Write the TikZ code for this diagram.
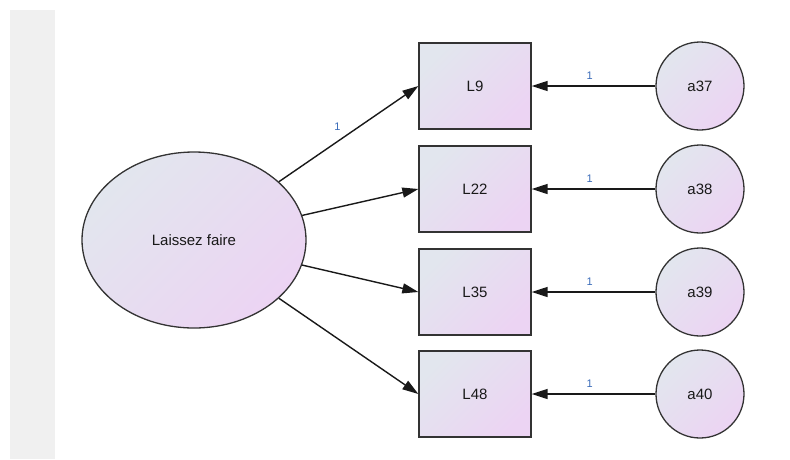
\documentclass[tikz,border=0pt]{standalone}
\usepackage{fontspec}
\setmainfont{Liberation Sans}
\usetikzlibrary{arrows.meta,shapes.geometric}
\definecolor{panel}{HTML}{F0F0F0}
\definecolor{shA}{HTML}{E2E6EE}
\definecolor{shB}{HTML}{ECD4F3}
\definecolor{edge}{HTML}{333333}
\definecolor{lbl}{HTML}{3A6BB8}
\begin{document}
\begin{tikzpicture}[x=1pt,y=-1pt,
  gfill/.style={draw=edge,line width=1.3pt,top color=shA,bottom color=shB,shading angle=45},
  txt/.style={font=\fontsize{15}{17}\selectfont,text=black!90},
  obs/.style={gfill,txt,rectangle,minimum width=112pt,minimum height=86pt,inner sep=0pt},
  err/.style={gfill,txt,circle,minimum size=88pt,inner sep=0pt},
  lat/.style={gfill,txt,ellipse,minimum width=224pt,minimum height=176pt,inner sep=0pt},
  arr/.style={line width=1.4pt,draw=black!90,-{Triangle[length=16pt,width=10pt]}},
  wlab/.style={font=\fontsize{11}{12}\selectfont,text=lbl}]
\useasboundingbox (0,0) rectangle (790,459);
\fill[panel] (10,10) rectangle (55,459);
\node[lat] (F) at (194,240) {Laissez faire};
\node[obs] (L9) at (475,86) {L9};
\node[obs] (L22) at (475,189) {L22};
\node[obs] (L35) at (475,292) {L35};
\node[obs] (L48) at (475,394) {L48};
\node[err] (a37) at (700,86) {a37};
\node[err] (a38) at (700,189) {a38};
\node[err] (a39) at (700,292) {a39};
\node[err] (a40) at (700,394) {a40};
\draw[arr] (F) -- node[wlab,pos=0.42,above=7pt] {1} (L9.west);
\draw[arr] (F) -- (L22.west);
\draw[arr] (F) -- (L35.west);
\draw[arr] (F) -- (L48.west);
\draw[arr] (a37) -- node[wlab,pos=0.53,above=2pt] {1} (L9);
\draw[arr] (a38) -- node[wlab,pos=0.53,above=2pt] {1} (L22);
\draw[arr] (a39) -- node[wlab,pos=0.53,above=2pt] {1} (L35);
\draw[arr] (a40) -- node[wlab,pos=0.53,above=2pt] {1} (L48);
\end{tikzpicture}
\end{document}
